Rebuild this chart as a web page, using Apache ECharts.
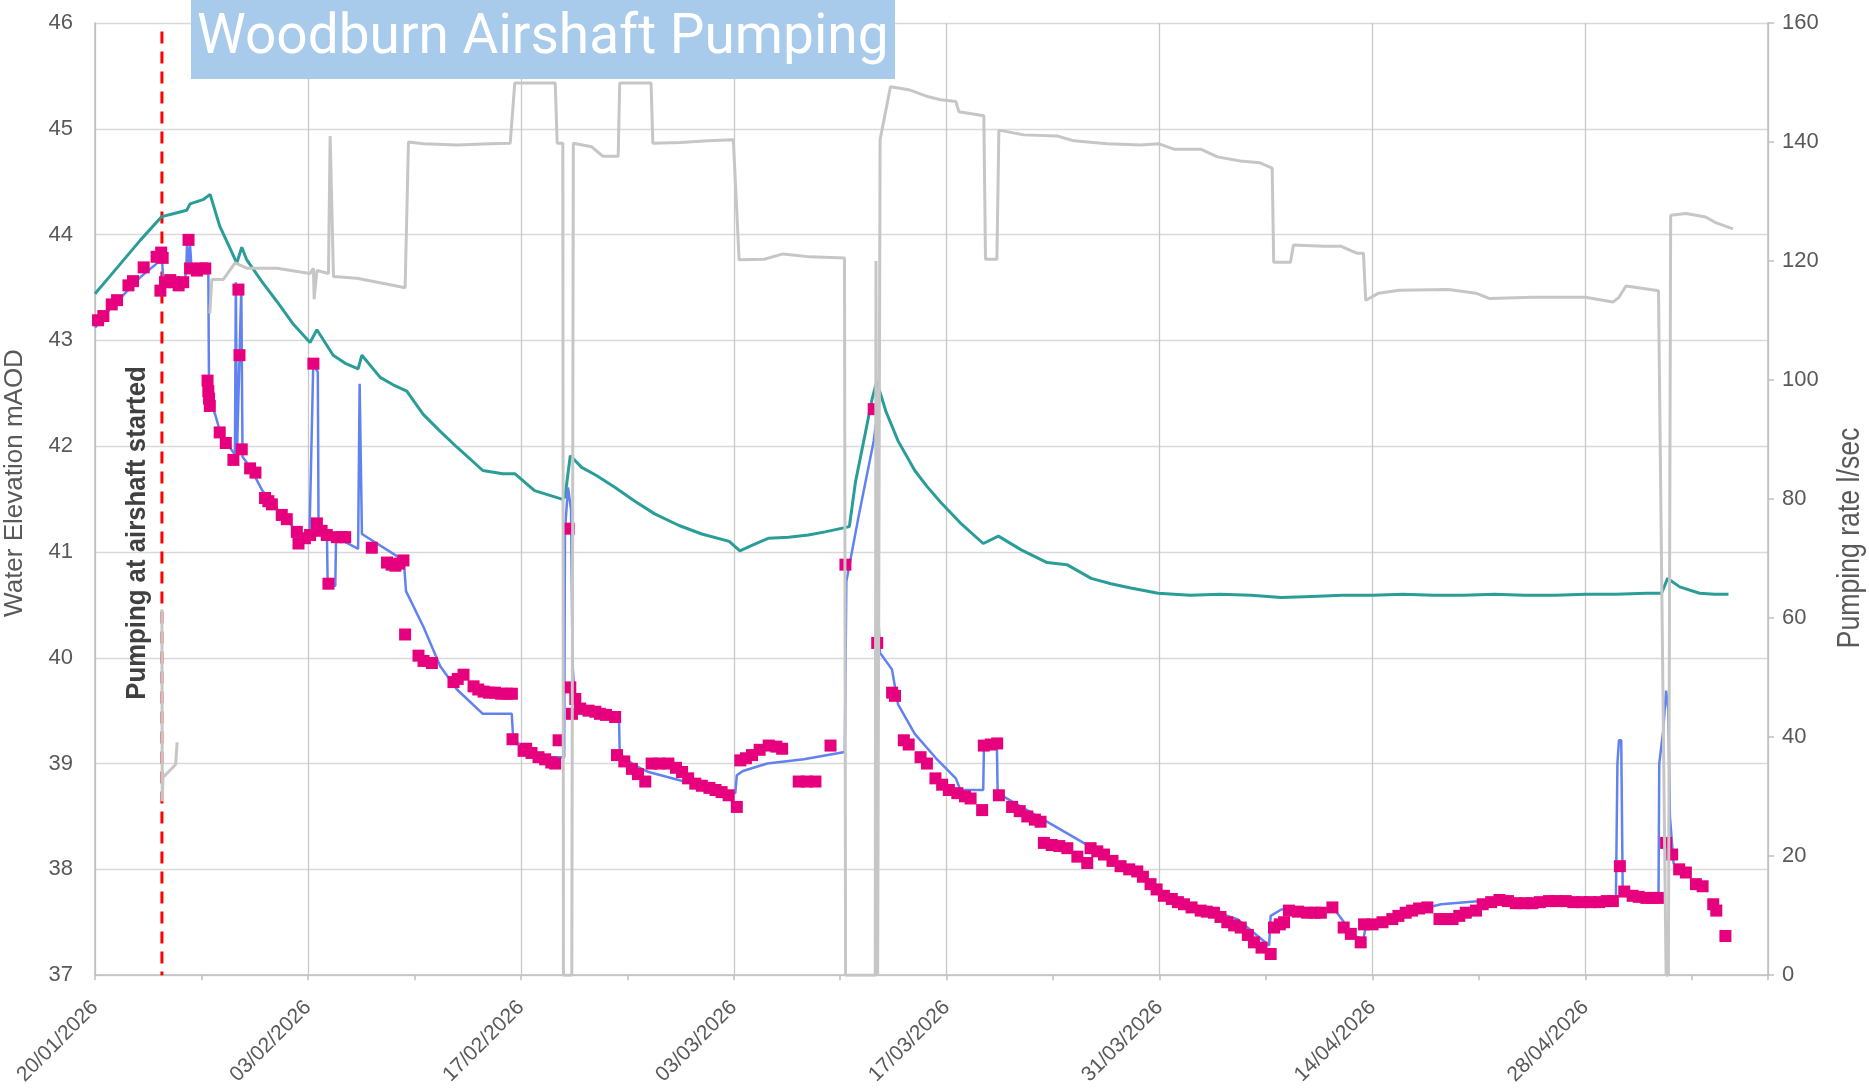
<!DOCTYPE html>
<html><head><meta charset="utf-8">
<script src="https://cdn.jsdelivr.net/npm/echarts/dist/echarts.min.js"></script>
<style>html,body{margin:0;padding:0;background:#fff}#c{width:1869px;height:1088px}</style>
</head><body><div id="c"></div>
<script>
// x values are days after 20/01/2026 00:00
const START_UTC = Date.UTC(2026, 0, 20);
const X_RANGE = [0, 110];
const X_TICK_DAYS = 14;
const LEFT_RANGE = [37, 46, 1];
const RIGHT_RANGE = [0, 160, 20];
const PUMP_START_LINE = [[4.4, 45.92], [4.4, 37]];

const tealLevel = [
[0,43.44],[1,43.61],[2,43.78],[3,43.95],[4.39,44.17],[5.2,44.2],[6.03,44.23],[6.25,44.29],[7.1,44.33],[7.57,44.38],
[8.2,44.08],[8.88,43.87],[9.32,43.73],[9.65,43.88],[9.98,43.76],[11.0,43.55],[11.95,43.37],[13.0,43.16],[14.14,42.98],
[14.59,43.10],[15.66,42.86],[16.5,42.78],[17.3,42.73],[17.55,42.86],[18.75,42.65],[19.6,42.58],[20.5,42.52],[21.58,42.30],
[22.7,42.14],[23.8,41.99],[25.5,41.77],[26.8,41.74],[27.6,41.74],[28.9,41.58],[30.7,41.50],[30.9,41.52],[31.25,41.91],
[32.0,41.80],[33.0,41.72],[34.2,41.61],[35.5,41.48],[36.8,41.36],[38.4,41.25],[39.9,41.17],[41.7,41.10],[42.4,41.01],
[43.3,41.07],[44.3,41.13],[45.6,41.14],[46.9,41.16],[48.0,41.19],[49.3,41.23],[49.6,41.24],[50.0,41.66],[50.7,42.16],
[51.1,42.45],[51.4,42.61],[52.0,42.33],[52.8,42.05],[53.9,41.77],[54.7,41.62],[55.6,41.47],[57.0,41.26],[58.4,41.08],
[59.4,41.15],[60.9,41.02],[62.6,40.90],[63.9,40.88],[65.5,40.75],[66.8,40.70],[68.1,40.66],[69.9,40.61],[72,40.59],
[74,40.60],[76,40.59],[78,40.57],[80,40.58],[82,40.59],[84,40.59],[86,40.60],[88,40.59],[90,40.59],[92,40.60],[94,40.59],
[96,40.59],[98,40.60],[100,40.60],[102,40.61],[103.0,40.61],[103.4,40.75],[104.2,40.67],[105.5,40.61],[106.5,40.60],[107.4,40.60]
];

const blueLevel = [
[0,43.12],[1,43.30],[2,43.45],[3,43.60],[4.0,43.72],[4.4,43.78],[4.5,43.55],[5.9,43.55],[6.0,43.68],[6.05,43.9],
[6.12,43.68],[6.25,43.9],[6.35,43.68],[7.45,43.68],[7.5,42.45],[7.9,42.30],[8.3,42.10],[9.2,41.92],[9.26,43.55],
[9.34,41.95],[9.62,43.5],[9.7,41.9],[10.2,41.80],[11.0,41.58],[12.0,41.40],[13.3,41.19],
[14.1,41.14],[14.35,42.78],[14.65,42.7],[14.7,41.2],[15.25,41.16],[15.3,40.68],[15.8,40.68],[15.85,41.14],[17.3,41.03],
[17.4,42.59],[17.55,41.17],[20.3,40.92],[20.45,40.63],[21.6,40.29],[22.7,39.92],[23.8,39.70],[25.5,39.47],[27.4,39.47],
[27.5,39.23],[28.2,39.15],[29.5,39.06],[30.85,39.06],[30.9,41.2],[31.1,41.61],[31.3,41.4],[31.4,39.94],[31.6,39.47],
[34.45,39.46],[34.5,39.09],[35.5,38.98],[36.4,38.92],[38.5,38.84],[40.5,38.77],[42.1,38.72],[42.2,38.89],[42.6,38.93],
[44.2,39.00],[46.6,39.04],[49.3,39.11],[49.4,40.72],[50.2,41.33],[51.2,42.05],[51.4,42.27],[51.45,40.61],[51.6,40.05],
[52.4,39.89],[52.8,39.56],[53.9,39.28],[55.3,39.05],[56.6,38.86],[56.9,38.75],[58.4,38.75],[58.45,39.17],[59.3,39.17],
[59.35,38.72],[65.0,38.25],[67.5,38.03],[70.9,37.73],[75.1,37.53],[77.2,37.28],[77.3,37.56],[78.0,37.62],[81.5,37.62],
[82.8,37.37],[83.4,37.34],[83.6,37.50],[84.5,37.52],[86.5,37.6],[88.5,37.67],[91.1,37.70],[100.0,37.72],[100.1,39.0],
[100.2,39.22],[100.35,39.22],[100.45,37.76],[102.8,37.73],[102.85,39.0],[103.1,39.3],[103.3,39.69],[103.45,39.5],
[103.55,38.5],[103.8,38.05]
];

const magentaDips = [
[0.2,43.19],[0.55,43.23],[1.1,43.34],[1.45,43.38],[2.2,43.52],[2.5,43.56],[3.2,43.69],[4.05,43.79],[4.35,43.83],[4.45,43.78],
[4.3,43.47],[4.6,43.55],[4.95,43.57],[5.2,43.55],[5.5,43.52],[5.8,43.55],[6.15,43.95],[6.25,43.68],[6.7,43.66],[7.0,43.68],
[7.25,43.68],[7.4,42.62],[7.45,42.52],[7.5,42.45],[7.55,42.38],[8.2,42.13],[8.6,42.03],[9.1,41.87],[9.43,43.48],[9.5,42.86],
[9.65,41.97],[10.2,41.79],[10.55,41.75],[11.18,41.51],[11.4,41.48],[11.63,41.45],[12.28,41.35],[12.61,41.31],[13.27,41.19],
[13.38,41.08],[13.8,41.13],[14.14,41.16],[14.36,42.78],[14.59,41.27],[14.9,41.2],[15.24,41.16],[15.35,40.70],[15.9,41.14],
[16.2,41.14],[16.45,41.14],[18.2,41.04],[19.2,40.90],[19.5,40.88],[19.75,40.87],[20.0,40.89],[20.28,40.92],[20.39,40.22],
[21.27,40.02],[21.6,39.97],[22.15,39.95],[23.57,39.77],[23.85,39.8],[24.23,39.84],[24.89,39.73],[25.2,39.7],[25.55,39.68],
[25.9,39.67],[26.3,39.67],[26.7,39.66],[27.1,39.66],[27.41,39.66],[27.45,39.23],[28.18,39.12],[28.35,39.14],[28.7,39.1],
[29.16,39.06],[29.6,39.04],[30.0,39.01],[30.26,39.00],[30.48,39.22],[31.14,41.22],[31.25,39.72],[31.36,39.47],[31.58,39.61],
[31.9,39.52],[32.45,39.50],[32.9,39.49],[33.2,39.47],[33.6,39.46],[34.2,39.44],[34.32,39.08],[34.8,39.02],[35.3,38.95],
[35.7,38.9],[36.18,38.83],[36.6,39.00],[37.1,39.00],[37.7,39.00],[38.2,38.96],[38.6,38.92],[39.0,38.86],[39.47,38.81],
[39.9,38.79],[40.4,38.77],[40.8,38.75],[41.2,38.73],[41.66,38.70],[42.2,38.59],[42.43,39.03],[42.8,39.05],[43.2,39.08],
[43.7,39.13],[44.3,39.17],[44.8,39.16],[45.18,39.14],[46.27,38.83],[46.8,38.83],[47.37,38.83],[48.36,39.17],[49.34,40.88],
[51.2,42.35],[51.43,40.14],[52.41,39.67],[52.6,39.64],[53.18,39.22],[53.5,39.18],[54.28,39.06],[54.7,39.0],[55.26,38.86],
[55.7,38.8],[56.14,38.75],[56.7,38.72],[57.2,38.69],[57.57,38.67],[58.33,38.56],[58.44,39.17],[58.9,39.18],[59.32,39.19],
[59.43,38.70],[60.3,38.59],[60.8,38.55],[61.3,38.50],[61.8,38.47],[62.17,38.45],[62.39,38.25],[62.9,38.23],[63.4,38.22],
[63.93,38.20],[64.59,38.12],[65.24,38.06],[65.46,38.20],[65.9,38.17],[66.34,38.14],[66.9,38.08],[67.43,38.03],[68.0,38.0],
[68.53,37.98],[68.9,37.93],[69.4,37.86],[69.8,37.81],[70.28,37.75],[70.8,37.72],[71.2,37.69],[71.6,37.67],[72.1,37.64],
[72.7,37.61],[73.1,37.60],[73.57,37.59],[74.0,37.55],[74.45,37.50],[74.9,37.47],[75.33,37.45],[75.8,37.38],[76.2,37.31],
[76.7,37.26],[77.3,37.20],[77.52,37.45],[77.9,37.48],[78.18,37.50],[78.5,37.61],[79.1,37.60],[79.7,37.59],[80.2,37.59],
[80.6,37.59],[81.36,37.64],[82.1,37.45],[82.57,37.39],[83.22,37.31],[83.44,37.48],[84.0,37.48],[84.65,37.50],[85.3,37.53],
[85.7,37.56],[86.18,37.59],[86.6,37.61],[87.06,37.63],[87.6,37.64],[88.4,37.53],[88.8,37.53],[89.26,37.53],[89.7,37.56],
[90.13,37.59],[90.8,37.61],[91.24,37.67],[91.8,37.69],[92.34,37.71],[92.9,37.70],[93.42,37.68],[94.0,37.68],[94.5,37.68],
[95.0,37.69],[95.6,37.70],[96.1,37.70],[96.7,37.70],[97.2,37.69],[97.8,37.69],[98.3,37.69],[98.9,37.69],[99.4,37.70],
[99.8,37.70],[100.26,38.03],[100.55,37.79],[101.1,37.75],[101.5,37.74],[102.0,37.73],[102.4,37.73],[102.85,37.73],
[103.3,38.25],[103.7,38.14],[104.16,38.00],[104.6,37.97],[105.26,37.86],[105.7,37.84],[106.4,37.67],[106.6,37.61],[107.2,37.37]
];

const pumpingRate = [
[4.4,61.5],[4.42,29.2],[4.47,33.2],[5.3,35.4],[5.4,39.1],[5.45,'-'],
[7.55,111.2],[7.68,116.9],[8.44,116.9],[9.21,119.7],[9.98,118.8],[11.95,118.8],[14.14,117.9],[14.36,118.8],[14.41,113.6],
[14.59,118.4],[15.35,117.9],[15.46,141.0],[15.56,141.0],[15.68,117.4],[17.22,117.1],[19.41,116.0],[20.39,115.5],[20.61,140.0],
[21.6,139.7],[23.8,139.5],[25.99,139.7],[27.3,139.8],[27.6,149.9],[30.26,149.9],[30.39,139.8],[30.76,139.8],[30.8,0],
[31.35,0],[31.45,139.8],[32.66,139.2],[33.4,137.6],[34.4,137.6],[34.5,149.9],[36.56,149.9],[36.68,139.8],[38.5,139.9],
[40.3,140.2],[41.97,140.4],[42.35,120.2],[44,120.3],[45.24,121.2],[47,120.7],[49.28,120.5],[49.35,0],[51.3,0],[51.35,120],
[51.42,120],[51.46,0],[51.55,0],[51.62,140.4],[52.3,149.3],[53.5,148.8],[54.8,147.6],[55.6,147.1],[56.6,146.8],[56.8,145.1],
[58.44,144.4],[58.55,120.3],[59.3,120.3],[59.43,142.0],[61.07,141.2],[63.27,141.0],[64.36,140.2],[66.56,139.7],[68.75,139.5],
[69.95,139.7],[70.94,138.8],[72.7,138.8],[73.8,137.5],[75.3,136.8],[76.6,136.5],[77.4,135.6],[77.5,119.8],[78.6,119.8],
[78.8,122.7],[80.8,122.5],[81.9,122.5],[83.0,121.3],[83.4,121.3],[83.55,113.4],[84.4,114.6],[85.75,115.1],[89.0,115.2],
[90.8,114.6],[91.7,113.7],[94.5,113.9],[98.0,113.9],[99.8,113.1],[100.2,113.9],[100.66,115.8],[102.6,115.1],[102.8,115.0],
[103.3,0],[103.45,0],[103.6,127.7],[104.6,128.0],[105.9,127.4],[106.6,126.4],[107.7,125.4]
];

function pad(n){return (n<10?'0':'')+n;}
function dayLabel(d){
  const dt = new Date(START_UTC + Math.round(d)*86400000);
  return pad(dt.getUTCDate())+'/'+pad(dt.getUTCMonth()+1)+'/'+dt.getUTCFullYear();
}

const GRAY_TXT = '#595959';
const chart = echarts.init(document.getElementById('c'), null, {renderer:'canvas'});
chart.setOption({
  animation:false,
  backgroundColor:'#ffffff',
  grid:{left:95, right:101, top:23, bottom:112, containLabel:false},
  xAxis:{
    type:'value', min:X_RANGE[0], max:X_RANGE[1], interval:X_TICK_DAYS,
    axisLine:{show:true, onZero:false, lineStyle:{color:'#BFBFBF', width:1.5}},
    axisTick:{show:true, length:5, lineStyle:{color:'#BFBFBF', width:1.5}},
    minorTick:{show:true, splitNumber:2, length:5, lineStyle:{color:'#BFBFBF', width:1.5}},
    splitLine:{show:true, lineStyle:{color:'#C8C8C8', width:1.3}},
    axisLabel:{rotate:45, margin:29, color:GRAY_TXT, fontSize:21, fontFamily:'Liberation Sans',
      formatter:dayLabel, showMaxLabel:false}
  },
  yAxis:[{
    type:'value', min:LEFT_RANGE[0], max:LEFT_RANGE[1], interval:LEFT_RANGE[2], position:'left',
    axisLine:{show:true, lineStyle:{color:'#BFBFBF', width:1.5}},
    axisTick:{show:false},
    splitLine:{show:true, lineStyle:{color:'#D9D9D9', width:1.3}},
    axisLabel:{color:GRAY_TXT, fontSize:22, fontFamily:'Liberation Sans', margin:22}
  },{
    type:'value', min:RIGHT_RANGE[0], max:RIGHT_RANGE[1], interval:RIGHT_RANGE[2], position:'right',
    axisLine:{show:true, lineStyle:{color:'#BFBFBF', width:1.5}},
    axisTick:{show:true, length:6, lineStyle:{color:'#BFBFBF', width:1.5}},
    splitLine:{show:false},
    axisLabel:{color:GRAY_TXT, fontSize:22, fontFamily:'Liberation Sans', margin:14}
  }],
  series:[
    {name:'Pumping start', type:'line', data:PUMP_START_LINE, showSymbol:false, symbol:'none',
      lineStyle:{color:'#FF0000', width:3, type:[12,8]}, z:2, silent:true},
    {name:'Teal level', type:'line', data:tealLevel, showSymbol:false, symbol:'none',
      lineStyle:{color:'#2A9D99', width:3}, z:3},
    {name:'Blue level', type:'line', data:blueLevel, showSymbol:false, symbol:'none',
      lineStyle:{color:'#6182F0', width:2.5}, z:3},
    {name:'Dips', type:'scatter', data:magentaDips, symbol:'rect', symbolSize:12,
      itemStyle:{color:'#E6007E', opacity:1}, z:4},
    {name:'Pumping rate', type:'line', yAxisIndex:1, data:pumpingRate, showSymbol:false, symbol:'none',
      connectNulls:false, lineStyle:{color:'#C6C6C6', width:3}, z:5}
  ],
  graphic:[
    {type:'rect', shape:{x:191, y:0, width:704, height:79}, style:{fill:'#A8CAEB'}, z:100},
    {type:'text', x:197, y:39, z:101, style:{text:'Woodburn Airshaft Pumping', fill:'#ffffff',
      fontSize:55, fontFamily:'Roboto', textAlign:'left', textVerticalAlign:'middle', align:'left', verticalAlign:'middle'}},
    {type:'text', x:15, y:483, rotation:Math.PI/2, z:101, style:{text:'Water Elevation mAOD', fill:GRAY_TXT,
      fontSize:26, fontFamily:'Liberation Sans', textAlign:'center', textVerticalAlign:'middle', align:'center', verticalAlign:'middle'}},
    {type:'text', x:1850, y:538, rotation:Math.PI/2, scaleX:0.86, z:101, style:{text:'Pumping rate l/sec', fill:GRAY_TXT,
      fontSize:31, fontFamily:'Liberation Sans', textAlign:'center', textVerticalAlign:'middle', align:'center', verticalAlign:'middle'}},
    {type:'text', x:137, y:533, rotation:Math.PI/2, scaleX:0.92, z:101, style:{text:'Pumping at airshaft started', fill:'#404040',
      fontSize:28, fontWeight:'bold', fontFamily:'Liberation Sans', textAlign:'center', textVerticalAlign:'middle', align:'center', verticalAlign:'middle'}}
  ]
});
</script></body></html>
